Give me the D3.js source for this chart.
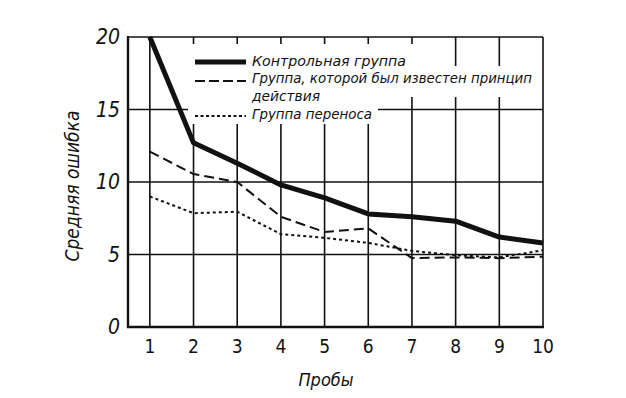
<!DOCTYPE html>
<html>
<head>
<meta charset="utf-8">
<script src="https://cdn.jsdelivr.net/npm/d3@7"></script>
<style>
  body { margin: 0; background: #fff; }
  text { font-family: "Liberation Sans Narrow", "DejaVu Sans Condensed", "Liberation Sans", sans-serif; fill: #111; }
</style>
</head>
<body>
<div id="chart"></div>
<script>
const trials = [1, 2, 3, 4, 5, 6, 7, 8, 9, 10];
const control = [20, 12.7, 11.3, 9.8, 8.9, 7.8, 7.6, 7.3, 6.2, 5.8];
const principle = [12.1, 10.55, 10.0, 7.6, 6.55, 6.8, 4.75, 4.8, 4.75, 4.85];
const transfer = [9.0, 7.85, 7.95, 6.4, 6.15, 5.8, 5.25, 4.95, 4.8, 5.3];
const yTicks = [0, 5, 10, 15, 20];
const legendLabels = ["Контрольная группа", "Группа, которой был известен принцип", "действия", "Группа переноса"];

const W = 626, H = 398;
const svg = d3.select("#chart").append("svg").attr("width", W).attr("height", H);

// plot box
const box = { left: 128, right: 543, top: 37, bottom: 327 };
const x = d3.scaleLinear().domain([0.5, 10]).range([box.left, box.right]);
const y = d3.scaleLinear().domain([0, 20]).range([box.bottom, box.top]);

const ink = "#111";

// grid
svg.append("g").selectAll("line")
  .data(yTicks.filter(d => d > 0))
  .join("line")
  .attr("x1", box.left).attr("x2", box.right)
  .attr("y1", d => y(d)).attr("y2", d => y(d))
  .attr("stroke", ink).attr("stroke-width", 1.6);

svg.append("g").selectAll("line")
  .data(trials)
  .join("line")
  .attr("x1", d => x(d)).attr("x2", d => x(d))
  .attr("y1", box.top).attr("y2", box.bottom)
  .attr("stroke", ink).attr("stroke-width", 1.6);

// axes frame
svg.append("line").attr("x1", box.left).attr("x2", box.left).attr("y1", box.top - 1).attr("y2", box.bottom + 1)
  .attr("stroke", ink).attr("stroke-width", 2.4);
svg.append("line").attr("x1", box.left - 1).attr("x2", box.right + 1).attr("y1", box.bottom).attr("y2", box.bottom)
  .attr("stroke", ink).attr("stroke-width", 2.4);

// white area behind legend
const blank = svg.append("g").attr("fill", "#fff");
blank.append("rect").attr("x", 188).attr("y", 44).attr("width", 190).attr("height", 80);
blank.append("rect").attr("x", 377).attr("y", 44).attr("width", 36).attr("height", 53);
blank.append("rect").attr("x", 412).attr("y", 66).attr("width", 126).attr("height", 31);

// series
const line = d3.line().x((d, i) => x(trials[i])).y(d => y(d));

svg.append("path").datum(control)
  .attr("fill", "none").attr("stroke", ink).attr("stroke-width", 5)
  .attr("stroke-linejoin", "round").attr("d", line);

svg.append("path").datum(principle)
  .attr("fill", "none").attr("stroke", ink).attr("stroke-width", 2)
  .attr("stroke-dasharray", "10,5").attr("d", line);

svg.append("path").datum(transfer)
  .attr("fill", "none").attr("stroke", ink).attr("stroke-width", 2)
  .attr("stroke-dasharray", "3,3").attr("d", line);

// y tick labels
svg.append("g").selectAll("text")
  .data(yTicks)
  .join("text")
  .attr("x", 120).attr("y", d => y(d) + 7)
  .attr("text-anchor", "end")
  .style("font-size", "21px").style("font-style", "italic")
  .text(d => d);

// x tick labels
svg.append("g").selectAll("text")
  .data(trials)
  .join("text")
  .attr("x", d => x(d)).attr("y", 353)
  .attr("text-anchor", "middle")
  .style("font-size", "19px")
  .text(d => d);

// axis titles
svg.append("text")
  .attr("x", 326).attr("y", 386)
  .attr("text-anchor", "middle")
  .style("font-size", "18px").style("font-style", "italic")
  .text("Пробы");

svg.append("text")
  .attr("transform", "translate(79,186) rotate(-90)")
  .attr("text-anchor", "middle")
  .style("font-size", "19px").style("font-style", "italic")
  .text("Средняя ошибка");

// legend
const lg = svg.append("g");
lg.append("line").attr("x1", 195).attr("x2", 246).attr("y1", 62).attr("y2", 62)
  .attr("stroke", ink).attr("stroke-width", 5);
lg.append("line").attr("x1", 195).attr("x2", 246).attr("y1", 81).attr("y2", 81)
  .attr("stroke", ink).attr("stroke-width", 2).attr("stroke-dasharray", "10,4");
lg.append("line").attr("x1", 195).attr("x2", 246).attr("y1", 116).attr("y2", 116)
  .attr("stroke", ink).attr("stroke-width", 2).attr("stroke-dasharray", "3,2.5");

const legendY = [66, 83, 101, 119];
const legendW = [154, 280, 68, 120];
lg.selectAll("text")
  .data(legendLabels)
  .join("text")
  .attr("x", 252).attr("y", (d, i) => legendY[i])
  .attr("textLength", (d, i) => legendW[i])
  .attr("lengthAdjust", "spacingAndGlyphs")
  .style("font-size", "14.5px").style("font-style", "italic")
  .text(d => d);
</script>
</body>
</html>
